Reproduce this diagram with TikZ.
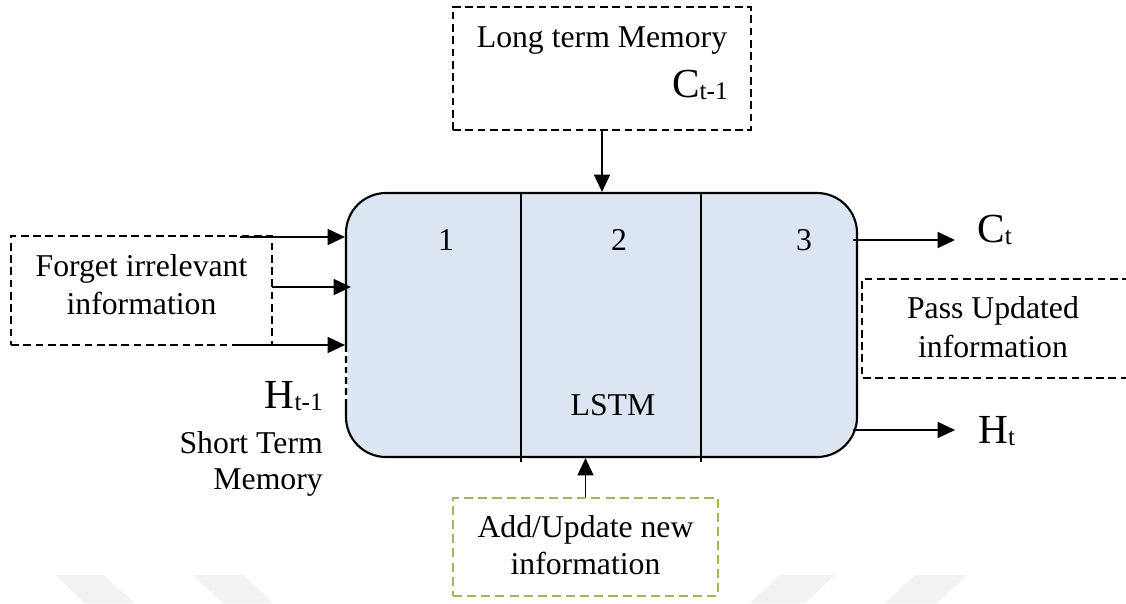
\documentclass[tikz,border=0pt]{standalone}
\usepackage{fontspec}
\setmainfont{Liberation Serif}
\usetikzlibrary{arrows.meta}
\definecolor{cellblue}{HTML}{DCE6F2}
\definecolor{leafgreen}{HTML}{9BBB59}
\definecolor{markgray}{HTML}{F2F2F2}

% large symbol with a subscript
\newcommand{\varsym}[2]{{\fontsize{31}{31}\selectfont #1}\raisebox{-2pt}{\fontsize{19}{19}\selectfont #2}}

\begin{document}
\begin{tikzpicture}[x=0.75pt,y=-0.75pt,
  txt/.style={font=\fontsize{23.8}{28.5}\selectfont, inner sep=0pt, align=center},
  dbox/.style={draw, line width=1.8pt, dash pattern=on 5.8pt off 3.4pt, inner sep=0pt},
  gbox/.style={draw=leafgreen, line width=1.8pt, dash pattern=on 6.8pt off 3.8pt, inner sep=0pt},
  arr/.style={line width=1.3pt, -{Triangle[length=13pt,width=12pt]}},
  sym/.style={inner sep=0pt},
]
\useasboundingbox (0,0) rectangle (1126,603);

% faint background marks
\fill[markgray] (55,575) -- (103,575) -- (135,603) -- (85,603) -- cycle;
\fill[markgray] (193,575) -- (243,575) -- (273,603) -- (223,603) -- cycle;
\fill[markgray] (780,575) -- (835,575) -- (805,603) -- (750,603) -- cycle;
\fill[markgray] (915,575) -- (967,575) -- (937,603) -- (885,603) -- cycle;

% LSTM cell
\node[draw, line width=1.6pt, fill=cellblue, rounded corners=30pt,
      minimum width=383.25pt, minimum height=198pt, inner sep=0pt] (lstm) at (601.5,325) {};
\draw[white, line width=2.4pt, dash pattern=on 3pt off 5pt] (346,352) -- (346,404);
\draw[line width=1.2pt] (521,193) -- (521,462);
\draw[line width=1.2pt] (701,193) -- (701,462);
\node[txt, anchor=base] (s1) at (446,250) {1};
\node[txt, anchor=base] (s2) at (619,250) {2};
\node[txt, anchor=base] (s3) at (804,250) {3};
\node[txt, anchor=base] (lbl) at (613,415) {LSTM};

% long term memory input
\node[dbox, minimum width=223.5pt, minimum height=92.25pt] (ltm) at (602,68.5) {};
\node[txt, anchor=base] (ltmtext) at (602,47) {Long term Memory};
\node[sym, anchor=base east] (cprev) at (728,97) {\varsym{C}{t-1}};
\draw[arr] (ltm.south) -- (lstm.north -| ltm.south);

% forget gate
\node[dbox, minimum width=195.75pt, minimum height=81.75pt] (forget) at (141.5,290.5) {};
\node[txt] (forgettext) at (141.5,285) {Forget irrelevant\\information};
\coordinate (f1) at (240,237);
\coordinate (f2) at (272,287);
\coordinate (f3) at (238,345);
\draw[arr] (f1) -- (lstm.west |- f1);
\draw[arr] (f2) -- ([xshift=4.5pt]lstm.west |- f2);
\draw[arr] (f3) -- (lstm.west |- f3);

% short term memory input
\node[sym, anchor=base east] (hprev) at (323,408) {\varsym{H}{t-1}};
\node[txt, align=right, anchor=east, font=\fontsize{23.8}{26.5}\selectfont] (stm) at (323,464) {Short Term\\Memory};

% outputs
\coordinate (ctip) at (955,240);
\coordinate (htip) at (955,430);
\node[sym, anchor=base west] (cnext) at (977,242) {\varsym{C}{t}};
\node[sym, anchor=base west] (hnext) at (978,443) {\varsym{H}{t}};
\draw[arr] ([xshift=-3.75pt]lstm.east |- ctip) -- (ctip);
\draw[arr] ([xshift=-3.75pt]lstm.east |- htip) -- (htip);

% output gate
\coordinate (pnw) at (862,279);
\coordinate (psw) at (862,378);
\draw[dbox] (1130,279) -- (pnw) -- (psw) -- (1130,378);
\node[txt, font=\fontsize{23.8}{29}\selectfont] (pass) at (993,327) {Pass Updated\\information};

% input gate
\node[gbox, minimum width=198.75pt, minimum height=73.5pt] (add) at (585.5,547) {};
\node[txt, font=\fontsize{23.8}{27.8}\selectfont] (addtext) at (585.5,545.5) {Add/Update new\\information};
\draw[arr] (add.north) -- (lstm.south -| add.north);
\end{tikzpicture}
\end{document}
